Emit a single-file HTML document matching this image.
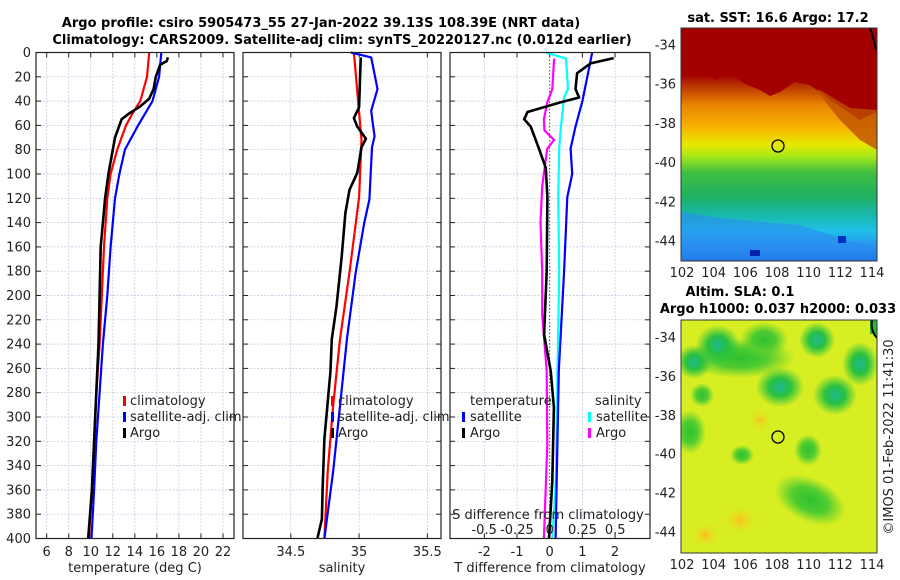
<!DOCTYPE html>
<html><head><meta charset="utf-8"><style>
html,body{margin:0;padding:0;background:#fff;}
svg{display:block;font-family:"DejaVu Sans","Liberation Sans",sans-serif;}
</style></head><body>
<svg id="fig" width="900" height="580" viewBox="0 0 900 580" xmlns="http://www.w3.org/2000/svg">
<defs>
<linearGradient id="sstg" x1="0" y1="0" x2="0" y2="1">
<stop offset="0" stop-color="#a30000"/><stop offset="0.2" stop-color="#a30000"/>
<stop offset="0.26" stop-color="#c04000"/><stop offset="0.33" stop-color="#e88400"/>
<stop offset="0.42" stop-color="#f8b000"/><stop offset="0.5" stop-color="#e8e800"/>
<stop offset="0.55" stop-color="#a8e818"/><stop offset="0.62" stop-color="#40c040"/>
<stop offset="0.72" stop-color="#20b060"/><stop offset="0.8" stop-color="#18b8a8"/>
<stop offset="0.87" stop-color="#20c0e8"/><stop offset="0.94" stop-color="#2890f0"/>
<stop offset="1" stop-color="#1860e0"/></linearGradient>
<radialGradient id="blob"><stop offset="0" stop-color="#20b890"/><stop offset="0.45" stop-color="#28c040"/><stop offset="1" stop-color="#28c040" stop-opacity="0"/></radialGradient>
<radialGradient id="blob2"><stop offset="0" stop-color="#30c030"/><stop offset="0.5" stop-color="#50cc30"/><stop offset="1" stop-color="#60d030" stop-opacity="0"/></radialGradient>
<radialGradient id="spot"><stop offset="0" stop-color="#f8c020"/><stop offset="1" stop-color="#f0e020" stop-opacity="0"/></radialGradient>
<clipPath id="c1"><rect x="681" y="28" width="196" height="233"/></clipPath>
<clipPath id="c2"><rect x="681" y="320" width="196" height="233"/></clipPath>
</defs>
<g font-weight="bold" font-size="13" text-anchor="middle" fill="#000">
<text x="321" y="27">Argo profile: csiro 5905473_55 27-Jan-2022 39.13S 108.39E (NRT data)</text>
<text x="342" y="44">Climatology: CARS2009. Satellite-adj clim: synTS_20220127.nc (0.012d earlier)</text>
</g>
<g id="panels"></g>
<g id="maps">
<g clip-path="url(#c1)">
<rect x="681" y="28" width="196" height="233" fill="url(#sstg)"/>
<path d="M681,72 L700,70 L715,80 L730,74 L745,84 L760,90 L770,96 L780,92 L795,82 L810,85 L830,100 L845,110 L860,120 L877,112 L877,28 L681,28Z" fill="#a30000"/>
<path d="M790,90 L820,95 L840,120 L860,140 L877,150 L877,110 L850,108 L820,90Z" fill="#c05000" opacity="0.8"/>
<path d="M681,212 L720,218 L760,222 L800,225 L840,238 L877,248 L877,261 L681,261Z" fill="#2a8cf0" opacity="0.6"/>
<rect x="750" y="250" width="10" height="6" fill="#0020b0"/><rect x="838" y="236" width="8" height="7" fill="#0030c0"/>
<path d="M870,28 Q874,40 876,50" stroke="#000" stroke-width="2" fill="none"/>
</g>
<rect x="681" y="28" width="196" height="233" fill="none" stroke="#333" stroke-width="1"/>
<circle cx="778" cy="146" r="6" fill="none" stroke="#000" stroke-width="1.3"/>
<g clip-path="url(#c2)">
<rect x="681" y="320" width="196" height="233" fill="#d6ee22"/>
<ellipse cx="740" cy="358" rx="55" ry="20" fill="url(#blob2)"/>
<ellipse cx="718" cy="345" rx="22" ry="20" fill="url(#blob)"/>
<ellipse cx="694" cy="362" rx="18" ry="17" fill="url(#blob)"/>
<ellipse cx="764" cy="340" rx="24" ry="18" fill="url(#blob2)"/>
<ellipse cx="817" cy="340" rx="18" ry="18" fill="url(#blob)"/>
<ellipse cx="860" cy="364" rx="18" ry="22" fill="url(#blob)"/>
<ellipse cx="835" cy="395" rx="22" ry="20" fill="url(#blob)"/>
<ellipse cx="780" cy="387" rx="24" ry="20" fill="url(#blob)"/>
<ellipse cx="690" cy="432" rx="16" ry="22" fill="url(#blob2)"/>
<ellipse cx="742" cy="455" rx="12" ry="10" fill="url(#blob2)"/>
<ellipse cx="808" cy="450" rx="14" ry="16" fill="url(#blob2)"/>
<ellipse cx="810" cy="500" rx="38" ry="22" fill="url(#blob2)" transform="rotate(25 810 500)"/>
<ellipse cx="702" cy="395" rx="12" ry="12" fill="url(#blob2)"/>
<ellipse cx="740" cy="520" rx="16" ry="14" fill="url(#spot)"/>
<ellipse cx="705" cy="535" rx="14" ry="12" fill="url(#spot)"/>
<ellipse cx="760" cy="420" rx="10" ry="10" fill="url(#spot)"/>
<rect x="870" y="320" width="7" height="14" fill="#28b840"/>
<path d="M872,320 Q870,330 877,338" stroke="#000" stroke-width="2" fill="none"/>
</g>
<rect x="681" y="320" width="196" height="233" fill="none" stroke="#333" stroke-width="1"/>
<circle cx="778" cy="437" r="6" fill="none" stroke="#000" stroke-width="1.3"/>
<g font-weight="bold" font-size="13" text-anchor="middle">
<text x="778" y="22">sat. SST: 16.6 Argo: 17.2</text>
<text x="740" y="296">Altim. SLA: 0.1</text>
<text x="778" y="313">Argo h1000: 0.037 h2000: 0.033</text>
</g>
<text transform="translate(893,437) rotate(-90)" font-size="13" text-anchor="middle" fill="#222">©IMOS 01-Feb-2022 11:41:30</text>
</g>
</svg>
<script>
// ---- data ----
var depthTicks=[0,20,40,60,80,100,120,140,160,180,200,220,240,260,280,300,320,340,360,380,400];
var tTicks=[6,8,10,12,14,16,18,20,22];
var sTicks=[34.5,35,35.5];
var dTTicks=[-2,-1,0,1,2];
var dSTickLabels=["-0.5","-0.25","0","0.25","0.5"];
var dSTicks=[-0.5,-0.25,0,0.25,0.5];
// temperature profiles: depth (m), value (deg C)
var tClimDepth=[0,20,40,50,60,80,100,120,160,200,240,280,320,360,400];
var tClimVal=[15.3,15.1,14.5,13.8,13.2,12.4,11.8,11.5,11.2,11.0,10.8,10.5,10.3,10.1,9.83];
var tSatDepth=[0,20,40,60,80,100,120,160,200,240,280,320,360,400];
var tSatVal=[16.4,16.2,15.6,14.3,13.1,12.6,12.2,11.8,11.5,11.1,10.8,10.5,10.3,10.07];
var tArgoDepth=[4,7,10,20,30,38,45,50,55,60,70,80,100,120,140,160,200,240,280,320,360,400];
var tArgoVal=[17.0,16.9,16.3,15.9,15.7,15.3,14.4,13.5,12.8,12.6,12.2,12.0,11.6,11.3,11.1,10.9,10.8,10.7,10.5,10.3,10.1,9.77];
// salinity profiles
var sClimDepth=[0,72,119,181,236,291,345,400];
var sClimVal=[34.962,35.018,35.0,34.93,34.86,34.81,34.77,34.746];
var sSatDepth=[0,4,30,48,58,69,78,121,140,181,236,291,345,400];
var sSatVal=[34.94,35.089,35.135,35.089,35.10,35.114,35.095,35.076,35.038,34.975,34.911,34.86,34.81,34.746];
var sArgoDepth=[4,17,45,54,61,71,78,99,113,132,168,209,236,263,318,359,384,400];
var sArgoVal=[35.013,35.008,35.0,34.962,34.987,35.05,35.018,34.987,34.93,34.90,34.873,34.835,34.80,34.79,34.746,34.733,34.728,34.695];
// differences from climatology
var dTSatDepth=[0,40,61,79,100,119,180,262,400];
var dTSatVal=[1.30,1.0,0.79,0.64,0.69,0.54,0.44,0.28,0.18];
var dTArgoDepth=[4.6,9,17,30,37,41,49,55,61,79,95,119,180,232,262,292,353,400];
var dTArgoVal=[1.96,1.25,0.84,0.79,0.90,0.34,-0.68,-0.78,-0.58,-0.33,-0.12,-0.07,-0.09,-0.17,0.03,0.13,0.08,-0.02];
var dSSatDepth=[0,5,30,37,61,79,119,180,262,353,400];
var dSSatVal=[-0.03,0.125,0.14,0.11,0.086,0.073,0.065,0.073,0.06,0.047,0.02];
var dSArgoDepth=[5,30,41,55,64,72,79,110,140,180,216,262,323,400];
var dSArgoVal=[0.034,0.02,-0.018,-0.044,-0.04,0.034,-0.018,-0.057,-0.07,-0.057,-0.057,-0.023,-0.018,-0.044];

var NS='http://www.w3.org/2000/svg';
var root=document.getElementById('panels');
function el(tag,attrs,parent){var e=document.createElementNS(NS,tag);for(var k in attrs)e.setAttribute(k,attrs[k]);(parent||root).appendChild(e);return e;}
var Y0=52.5,YS=1.215;
function yD(d){return Y0+d*YS;}
var PB=yD(400);
var panels=[
 {x0:36,x1:234,vmin:5.03,vmax:23,name:'temperature'},
 {x0:243,x1:441,vmin:34.15,vmax:35.6,name:'salinity'},
 {x0:450,x1:650,vmin:-3.05,vmax:3.07,name:'t-difference'}
];
function xf(p){return function(v){return p.x0+(v-p.vmin)/(p.vmax-p.vmin)*(p.x1-p.x0);};}
var xT=xf(panels[0]),xS=xf(panels[1]),xDT=xf(panels[2]);
function xDS(v){return xDT(0)+v*131;}

function grid(p,xticks,xfun){
  var g=el('g',{});
  
  
  depthTicks.forEach(function(d){el('line',{x1:p.x0,x2:p.x1,y1:yD(d),y2:yD(d),stroke:'#b8c4dc','stroke-width':0.7,'stroke-dasharray':'2,1.5'},g);
    el('line',{x1:p.x0,x2:p.x0+5,y1:yD(d),y2:yD(d),stroke:'#222'},g);el('line',{x1:p.x1-5,x2:p.x1,y1:yD(d),y2:yD(d),stroke:'#222'},g);});
  xticks.forEach(function(v){var x=xfun(v);el('line',{x1:x,x2:x,y1:Y0,y2:PB,stroke:'#b8c4dc','stroke-width':0.7,'stroke-dasharray':'2,1.5'},g);
    el('line',{x1:x,x2:x,y1:Y0,y2:Y0+5,stroke:'#222'},g);el('line',{x1:x,x2:x,y1:PB-5,y2:PB,stroke:'#222'},g);});
}
function frame(p){var r=el('rect',{x:p.x0,y:Y0,width:p.x1-p.x0,height:PB-Y0,fill:'none',stroke:'#222','stroke-width':1.2});
  
  }
function line(depths,vals,xfun,color,w,name){
  var d='';for(var i=0;i<depths.length;i++){d+=(i?'L':'M')+xfun(vals[i]).toFixed(1)+','+yD(depths[i]).toFixed(1);}
  var pth=el('path',{d:d,fill:'none',stroke:color,'stroke-width':w,'stroke-linejoin':'round'});
  
  
}
function txt(x,y,s,opt,name){var t=el('text',Object.assign({x:x,y:y,'font-size':13,fill:'#222'},opt||{}));t.textContent=s;
  
  
  return t;}

grid(panels[0],tTicks,xT);grid(panels[1],sTicks,xS);grid(panels[2],dTTicks,xDT);
var zl=el('line',{x1:xDT(0),x2:xDT(0),y1:Y0,y2:PB,stroke:'#555','stroke-width':1,'stroke-dasharray':'1.5,2'});



line(tClimDepth,tClimVal,xT,'#ff0000',2.2,'temperature-climatology-line');
line(tSatDepth,tSatVal,xT,'#0000ff',2.2,'temperature-satellite-line');
line(tArgoDepth,tArgoVal,xT,'#000',2.6,'temperature-argo-line');
line(sClimDepth,sClimVal,xS,'#ff0000',2.2,'salinity-climatology-line');
line(sSatDepth,sSatVal,xS,'#0000ff',2.2,'salinity-satellite-line');
line(sArgoDepth,sArgoVal,xS,'#000',2.6,'salinity-argo-line');
line(dSSatDepth,dSSatVal,xDS,'#00ffff',2.2,'s-diff-satellite-line');
line(dSArgoDepth,dSArgoVal,xDS,'#ff00ff',2.2,'s-diff-argo-line');
line(dTSatDepth,dTSatVal,xDT,'#0000ff',2.2,'t-diff-satellite-line');
line(dTArgoDepth,dTArgoVal,xDT,'#000',2.6,'t-diff-argo-line');

panels.forEach(frame);

depthTicks.forEach(function(d){txt(31,yD(d)+4.5,String(d),{'text-anchor':'end'},'depth-tick-label');});
tTicks.forEach(function(v){txt(xT(v),556,String(v),{'text-anchor':'middle'},'temperature-tick-label');});
sTicks.forEach(function(v){txt(xS(v),556,String(v),{'text-anchor':'middle'},'salinity-tick-label');});
dTTicks.forEach(function(v){txt(xDT(v),556,String(v),{'text-anchor':'middle'},'t-diff-tick-label');});
dSTicks.forEach(function(v,i){txt(xDS(v),534,dSTickLabels[i],{'text-anchor':'middle'},'s-diff-tick-label');});
txt(135,572,'temperature (deg C)',{'text-anchor':'middle'},'temperature-axis-title');
txt(342,572,'salinity',{'text-anchor':'middle'},'salinity-axis-title');
txt(550,572,'T difference from climatology',{'text-anchor':'middle'},'t-diff-axis-title');
txt(548,519,'S difference from climatology',{'text-anchor':'middle'},'s-diff-axis-title');

function legMark(x,y,color,name){var r=el('rect',{x:x,y:y-10,width:3,height:10,fill:color});
  
  }
[[122,'p1'],[330,'p2']].forEach(function(L){var x=L[0];
  legMark(x+1,406,'#ff0000','legend-climatology-marker');txt(x+8,405,'climatology',{},'legend-climatology');
  legMark(x+1,422,'#0000ff','legend-satellite-adj-marker');txt(x+8,421,'satellite-adj. clim',{},'legend-satellite-adj-clim');
  legMark(x+1,438,'#000','legend-argo-marker');txt(x+8,437,'Argo',{},'legend-argo');
});
txt(470,405,'temperature',{},'legend-temperature-heading');
legMark(462,422,'#0000ff','legend-t-satellite-marker');txt(470,421,'satellite',{},'legend-t-satellite');
legMark(462,438,'#000','legend-t-argo-marker');txt(470,437,'Argo',{},'legend-t-argo');
txt(595,405,'salinity',{},'legend-salinity-heading');
legMark(588,422,'#00ffff','legend-s-satellite-marker');txt(596,421,'satellite',{},'legend-s-satellite');
legMark(588,438,'#ff00ff','legend-s-argo-marker');txt(596,437,'Argo',{},'legend-s-argo');

var mapLat=[-34,-36,-38,-40,-42,-44];
var mapLon=[102,104,106,108,110,112,114];
function mapAxes(top,bottom,latY34,latY44,name){
  mapLat.forEach(function(v){var y=latY34+(v+34)/(-10)*(latY44-latY34);
    txt(676,y+4.5,String(v),{'text-anchor':'end'},name+'-lat-label');
    el('line',{x1:681,x2:685,y1:y,y2:y,stroke:'#222'});el('line',{x1:873,x2:877,y1:y,y2:y,stroke:'#222'});});
  mapLon.forEach(function(v){var x=682+(v-102)/12*190;
    txt(x,bottom+16,String(v),{'text-anchor':'middle'},name+'-lon-label');
    el('line',{x1:x,x2:x,y1:bottom-4,y2:bottom,stroke:'#222'});});
}
mapAxes(28,261,45,241,'sst-map');
mapAxes(320,553,337.5,532,'sla-map');
</script>
</body></html>
